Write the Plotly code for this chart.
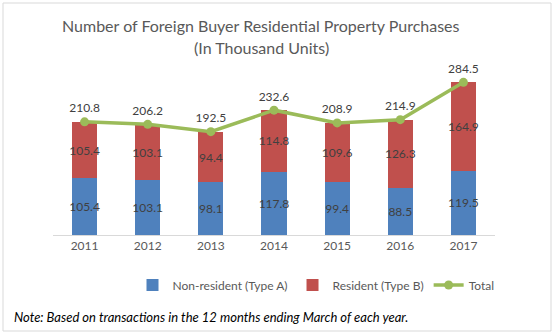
import plotly.graph_objects as go

years = ["2011", "2012", "2013", "2014", "2015", "2016", "2017"]
non_resident = [105.4, 103.1, 98.1, 117.8, 99.4, 88.5, 119.5]
resident = [105.4, 103.1, 94.4, 114.8, 109.6, 126.3, 164.9]
total = [210.8, 206.2, 192.5, 232.6, 208.9, 214.9, 284.5]
title_lines = ["Number of Foreign Buyer Residential Property Purchases", "(In Thousand Units)"]

W, H = 555, 336
L, R, T, B = 53, 60, 74, 101
pw, ph = W - L - R, H - T - B

def px(x):
    return (x - L) / pw

def py(y):
    return (H - B - y) / ph

FONT = "Lato"
lab = dict(family=FONT, size=12, color="#404040")

fig = go.Figure()
fig.add_trace(go.Bar(
    x=years, y=non_resident, name="Non-resident (Type A)",
    marker=dict(color="#4F81BD", line=dict(width=0)),
    text=[f"{v:.1f}" for v in non_resident], textposition="inside",
    insidetextanchor="middle", textangle=0, constraintext="none",
    textfont=lab,
))
fig.add_trace(go.Bar(
    x=years, y=resident, name="Resident (Type B)",
    marker=dict(color="#C0504D", line=dict(width=0)),
    text=[f"{v:.1f}" for v in resident], textposition="inside",
    insidetextanchor="middle", textangle=0, constraintext="none",
    textfont=lab,
))
fig.add_trace(go.Scatter(
    x=years, y=total, name="Total", mode="lines+markers+text",
    line=dict(color="#9BBB59", width=3.5),
    marker=dict(color="#9BBB59", size=9),
    text=[f"{v:.1f}" for v in total], textposition="top center",
    textfont=lab, cliponaxis=False,
))

annotations = [
    dict(text=title_lines[0], xref="paper", yref="paper", x=px(261), y=py(25),
         xanchor="center", yanchor="middle", showarrow=False,
         font=dict(family=FONT, size=16, color="#595959")),
    dict(text=title_lines[1], xref="paper", yref="paper", x=px(261), y=py(47),
         xanchor="center", yanchor="middle", showarrow=False,
         font=dict(family=FONT, size=16, color="#595959")),
    dict(text="<i>Note: Based on transactions in the 12 months ending March of each year.</i>",
         xref="paper", yref="paper", x=px(12), y=py(317),
         xanchor="left", yanchor="middle", showarrow=False,
         font=dict(family=FONT, size=13, color="#000000")),
]

fig.update_layout(
    width=W, height=H,
    margin=dict(l=L, r=R, t=T, b=B),
    paper_bgcolor="white", plot_bgcolor="white",
    barmode="stack", bargap=0.6,
    font=dict(family=FONT, color="#595959"),
    xaxis=dict(
        showline=True, linecolor="#D9D9D9", linewidth=1, ticks="",
        tickfont=dict(family=FONT, size=12, color="#595959"),
        showgrid=False, fixedrange=True,
    ),
    yaxis=dict(range=[0, 300], visible=False, showgrid=False, fixedrange=True),
    showlegend=True,
    legend=dict(
        orientation="h", x=px(316), xanchor="center", y=py(285), yanchor="middle",
        font=dict(family=FONT, size=12, color="#595959"),
        traceorder="normal", itemwidth=30,
    ),
    annotations=annotations,
    shapes=[dict(
        type="rect", xref="paper", yref="paper",
        x0=px(3), x1=px(551), y0=py(331), y1=py(3),
        line=dict(color="#D9D9D9", width=1), fillcolor="rgba(0,0,0,0)", layer="below",
    )],
)

fig.write_html("out.html")
